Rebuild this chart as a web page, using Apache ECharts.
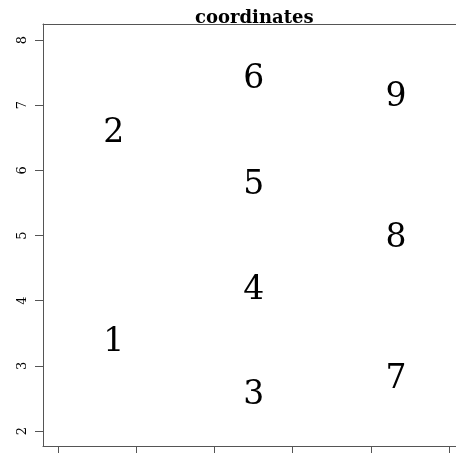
<!DOCTYPE html>
<html>
<head>
<meta charset="utf-8">
<script src="https://cdn.jsdelivr.net/npm/echarts@6/dist/echarts.min.js"></script>
<style>html,body{margin:0;padding:0;background:#fff}#c{width:456px;height:453px}</style>
</head>
<body>
<div id="c"></div>
<script>
var labels = ['1','2','3','4','5','6','7','8','9'];
var xValues = [0.70, 0.70, 2.49, 2.49, 2.49, 2.49, 4.31, 4.31, 4.31];
var yValues = [3.40, 6.60, 2.58, 4.20, 5.81, 7.43, 2.83, 5.00, 7.16];
var xTicks = [0, 1, 2, 3, 4, 5];
var yTicks = [2, 3, 4, 5, 6, 7, 8];
var title = 'coordinates';

var data = labels.map(function (l, i) { return { value: [xValues[i], yValues[i]], name: l }; });
var chart = echarts.init(document.getElementById('c'), null, { renderer: 'canvas' });
chart.setOption({
  animation: false,
  title: {
    text: title, left: 190, top: 4,
    textStyle: { fontFamily: 'DejaVu Serif', fontWeight: 'bold', fontSize: 18, color: '#000' }
  },
  grid: { left: 43, top: 24, right: 0, bottom: 7, show: false },
  xAxis: [{
    type: 'value', min: -0.192, max: 5.089,
    splitLine: { show: false },
    axisLine: { show: true, onZero: false, lineStyle: { color: '#555' } },
    axisTick: { show: true, length: 7, inside: false, customValues: xTicks, lineStyle: { color: '#555' } },
    axisLabel: { show: false, customValues: xTicks }
  }, {
    type: 'value', position: 'top', min: -0.192, max: 5.089,
    splitLine: { show: false },
    axisLine: { show: true, onZero: false, lineStyle: { color: '#555' } },
    axisTick: { show: false },
    axisLabel: { show: false }
  }],
  yAxis: {
    type: 'value', min: 1.770, max: 8.2455,
    splitLine: { show: false },
    axisLine: { show: true, onZero: false, lineStyle: { color: '#555' } },
    axisTick: { show: true, length: 8, customValues: yTicks, lineStyle: { color: '#555' } },
    axisLabel: { show: true, customValues: yTicks, rotate: 90, margin: 14, fontFamily: 'DejaVu Serif', fontSize: 13, color: '#000' }
  },
  series: [{
    type: 'scatter', data: data, symbolSize: 0, itemStyle: { opacity: 1 },
    label: { show: true, position: 'inside', offset: [1, 2.5], formatter: '{b}', fontFamily: 'DejaVu Serif', fontSize: 33, color: '#000' }
  }]
});
</script>
</body>
</html>
